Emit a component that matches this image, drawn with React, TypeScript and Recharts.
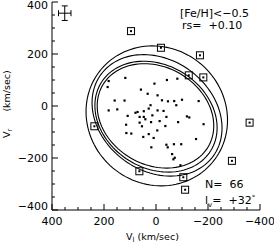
import { ErrorBar, Scatter, ScatterChart, XAxis, YAxis } from "recharts";

// stars without box (V_l, V_r in km/sec)
const starVl = [182, 186, 118, 159, 121, 149, 182, 58, 32, 6, -42, -82, -6, 21, 28, 47, -23, -46, -70, -100, -164, 109, 79, 71, 63, 47, 41, 14, -6, -29, -40, -78, -119, -128, 63, 54, 19, -14, -36, -85, -183, 115, 114, 95, 49, 28, 9, -5, 18, -40, -45, -69, -97, -154, -62, -72, -67, -94];
const starVr = [96, 73, 108, 21, 21, -13, -17, 63, 47, 86, 100, 105, 41, 3, -10, -20, 22, 18, 19, 24, 19, -38, -26, -23, -42, -42, -51, -36, -17, -19, -42, 3, -40, -44, -64, -78, -62, -58, -77, -62, -70, -72, -104, -106, -119, -108, -123, -94, -159, -149, -159, -147, -147, -127, -185, -199, -205, -228];

// boxed stars
const boxVl = [96, -19, -169, -126, -182, -360, 237, 64, -292, -105, -112];
const boxVr = [288, 224, 195, 118, 110, -64, -78, -251, -211, -274, -322];

// velocity ellipses: centre, semi-axes, tilt (deg)
const ellCx = [-3, -4, 0, 2];
const ellCy = [-38, -36, -41, -38];
const ellA = [279, 267, 248, 235];
const ellB = [262, 214, 198, 188];
const ellTilt = [40, 36, 32, 30];

// typical error bar
const errVl = [351];
const errVr = [357];
const errX = [24];
const errY = [28];

const majorTicks = [-400, -200, 0, 200, 400];
const tickLabels = ["\u2212400", "\u2212200", "0", "200", "400"];
const minorTicks = [-350, -300, -250, -150, -100, -50, 50, 100, 150, 250, 300, 350];
const allTicks = [...majorTicks, ...minorTicks].sort((a, b) => a - b);

const FONT = "DejaVu Sans, sans-serif";

const stars = starVl.map((x, i) => ({ x, y: starVr[i] }));
const boxed = boxVl.map((x, i) => ({ x, y: boxVr[i] }));
const errData = errVl.map((x, i) => ({ x, y: errVr[i], ex: errX[i], ey: errY[i] }));

function ellipse(k: number) {
  const th = (ellTilt[k] * Math.PI) / 180;
  const pts = [];
  for (let i = 0; i <= 120; i++) {
    const t = (i / 120) * 2 * Math.PI;
    const u = ellA[k] * Math.cos(t);
    const v = ellB[k] * Math.sin(t);
    pts.push({
      x: ellCx[k] + u * Math.cos(th) - v * Math.sin(th),
      y: ellCy[k] + u * Math.sin(th) + v * Math.cos(th),
    });
  }
  return pts;
}

const lab = (v: number) => tickLabels[majorTicks.indexOf(v)];
const isMajor = (v: number) => majorTicks.includes(v);

function BottomTick({ x, y, payload }: any) {
  const v = payload.value;
  return (
    <g>
      <line x1={x} y1={y} x2={x} y2={y - (isMajor(v) ? 6 : 3)} stroke="#000" />
      {isMajor(v) && (
        <text x={x} y={y + 15} textAnchor="middle" fontSize={11} fontFamily={FONT} fill="#000">
          {lab(v)}
        </text>
      )}
    </g>
  );
}

function TopTick({ x, y, payload }: any) {
  const v = payload.value;
  return <line x1={x} y1={y} x2={x} y2={y + (isMajor(v) ? 6 : 3)} stroke="#000" />;
}

function LeftTick({ x, y, payload }: any) {
  const v = payload.value;
  // end labels are pulled inside the frame, as in the original plot
  const base = v === 400 ? 9 : v === -400 ? y : y + 4;
  return (
    <g>
      <line x1={x} y1={y} x2={x + (isMajor(v) ? 6 : 3)} y2={y} stroke="#000" />
      {isMajor(v) && (
        <text x={x - 4} y={base} textAnchor="end" fontSize={11} fontFamily={FONT} fill="#000">
          {lab(v)}
        </text>
      )}
    </g>
  );
}

function RightTick({ x, y, payload }: any) {
  const v = payload.value;
  return <line x1={x} y1={y} x2={x - (isMajor(v) ? 6 : 3)} y2={y} stroke="#000" />;
}

const dot = (p: any) => <rect x={p.cx - 1.1} y={p.cy - 1.1} width={2.2} height={2.2} fill="#000" />;
const boxDot = (p: any) => (
  <g>
    <rect x={p.cx - 3.5} y={p.cy - 3.5} width={7} height={7} fill="none" stroke="#000" />
    <rect x={p.cx - 1} y={p.cy - 1} width={2} height={2} fill="#000" />
  </g>
);
const none = () => <g />;

export default function App() {
  const txt = { fontSize: 11, fontFamily: FONT, fill: "#000", style: { whiteSpace: "pre" as const } };
  const ttl = { ...txt, fontSize: 9.5 };
  return (
    <div style={{ position: "absolute", left: 0, top: 0, background: "#fff" }}>
      <ScatterChart width={274} height={243} margin={{ top: 2, right: 14, bottom: 0, left: 0 }}>
        <XAxis
          dataKey="x"
          type="number"
          domain={[-400, 400]}
          reversed
          allowDataOverflow
          ticks={allTicks}
          interval={0}
          tickSize={0}
          tickMargin={0}
          height={33}
          axisLine={{ stroke: "#000" }}
          tick={BottomTick}
        />
        <XAxis
          xAxisId="t"
          orientation="top"
          dataKey="x"
          type="number"
          domain={[-400, 400]}
          reversed
          allowDataOverflow
          ticks={allTicks}
          interval={0}
          tickSize={0}
          tickMargin={0}
          height={0}
          axisLine={{ stroke: "#000" }}
          tick={TopTick}
        />
        <YAxis
          dataKey="y"
          type="number"
          domain={[-400, 400]}
          allowDataOverflow
          ticks={allTicks}
          interval={0}
          tickSize={0}
          tickMargin={0}
          width={52}
          axisLine={{ stroke: "#000" }}
          tick={LeftTick}
        />
        <YAxis
          yAxisId="r"
          orientation="right"
          dataKey="y"
          type="number"
          domain={[-400, 400]}
          allowDataOverflow
          ticks={allTicks}
          interval={0}
          tickSize={0}
          tickMargin={0}
          width={0}
          axisLine={{ stroke: "#000" }}
          tick={RightTick}
        />
        {ellCx.map((_, k) => (
          <Scatter
            key={k}
            data={ellipse(k)}
            line={{ stroke: "#000", strokeWidth: 1.1 }}
            lineType="joint"
            shape={none}
            isAnimationActive={false}
          />
        ))}
        <Scatter data={stars} shape={dot} isAnimationActive={false} />
        <Scatter data={boxed} shape={boxDot} isAnimationActive={false} />
        <Scatter data={errData} shape={none} isAnimationActive={false}>
          <ErrorBar dataKey="ex" direction="x" width={3} stroke="#000" strokeWidth={1} />
          <ErrorBar dataKey="ey" direction="y" width={3} stroke="#000" strokeWidth={1} />
        </Scatter>
        <text x={180} y={16.5} {...txt}>[Fe/H]&lt;{"\u2212"}0.5</text>
        <text x={182} y={29} {...txt}>{"rs=  +0.10"}</text>
        <text x={205} y={188} {...txt}>{"N=  66"}</text>
        <text x={205} y={204} {...txt}>
          l<tspan fontSize={7} dy={3}>v</tspan>
          <tspan dy={-3}>{"=  +32"}</tspan>
          <tspan fontSize={7} dy={-4}>{"\u00b0"}</tspan>
        </text>
        <text x={126} y={240} {...ttl}>
          V<tspan fontSize={7} dy={2}>l</tspan>
          <tspan dy={-2} dx={3}>(km/sec)</tspan>
        </text>
        <text x={10} y={138} transform="rotate(-90 10 138)" {...ttl}>
          V<tspan fontSize={7} dy={2}>r</tspan>
          <tspan dy={-2} dx={17}>(km/sec)</tspan>
        </text>
      </ScatterChart>
    </div>
  );
}
